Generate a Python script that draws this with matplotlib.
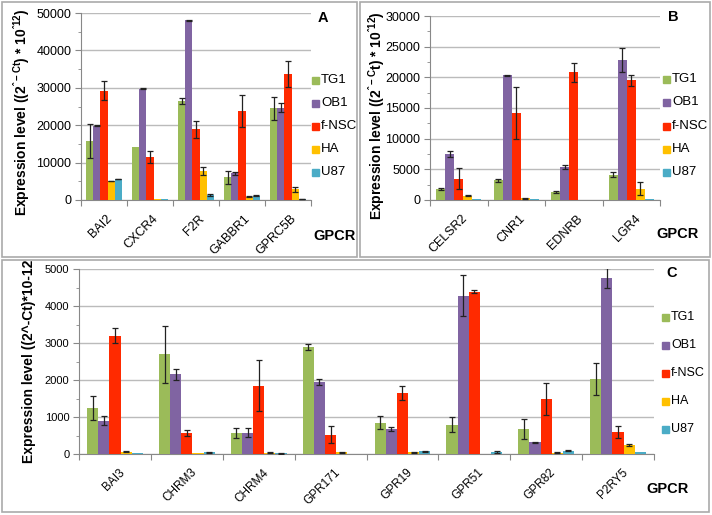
import numpy as np
import matplotlib
matplotlib.use("Agg")
import matplotlib.pyplot as plt
from matplotlib.patches import Rectangle

plt.rcParams['font.family'] = ['Liberation Sans', 'DejaVu Sans']

nan = np.nan
series = ['TG1', 'OB1', 'f-NSC', 'HA', 'U87']
colors = ['#9BBB59', '#8064A2', '#FF2A00', '#FFC000', '#4BACC6']

# Panel A
A_cats = ['BAI2', 'CXCR4', 'F2R', 'GABBR1', 'GPRC5B']
A_TG1 = [15800, 14200, 26600, 6100, 24500]
A_OB1 = [19900, 29700, 48100, 7100, 24700]
A_NSC = [29200, 11500, 18900, 23800, 33600]
A_HA = [5100, 200, 7700, 900, 2900]
A_U87 = [5600, 200, 1300, 1200, 250]
A_TG1_err = [4600, nan, 800, 1700, 3000]
A_OB1_err = [150, 150, 150, 500, 1300]
A_NSC_err = [2500, 1500, 2200, 4200, 3500]
A_HA_err = [100, nan, 1100, 150, 650]
A_U87_err = [100, nan, 200, 150, 100]

# Panel B
B_cats = ['CELSR2', 'CNR1', 'EDNRB', 'LGR4']
B_TG1 = [1800, 3200, 1250, 4100]
B_OB1 = [7500, 20300, 5400, 22800]
B_NSC = [3450, 14200, 20800, 19500]
B_HA = [700, 250, 80, 1850]
B_U87 = [100, 100, 80, 100]
B_TG1_err = [180, 300, 180, 400]
B_OB1_err = [500, 60, 350, 2000]
B_NSC_err = [1700, 4300, 1550, 950]
B_HA_err = [100, 80, nan, 1100]
B_U87_err = [nan, nan, nan, nan]

# Panel C
C_cats = ['BAI3', 'CHRM3', 'CHRM4', 'GPR171', 'GPR19', 'GPR51', 'GPR82', 'P2RY5']
C_TG1 = [1250, 2700, 570, 2900, 845, 790, 675, 2025]
C_OB1 = [900, 2150, 570, 1950, 675, 4280, 315, 4760]
C_NSC = [3200, 570, 1845, 515, 1645, 4390, 1490, 595]
C_HA = [65, 15, 30, 45, 50, 10, 30, 250]
C_U87 = [15, 45, 15, 10, 75, 45, 90, 65]
C_TG1_err = [320, 770, 130, 80, 180, 200, 270, 430]
C_OB1_err = [120, 150, 120, 80, 50, 550, 20, 260]
C_NSC_err = [200, 80, 690, 230, 180, 40, 440, 160]
C_HA_err = [15, nan, 15, 20, 10, nan, 15, 25]
C_U87_err = [nan, 10, 10, nan, 15, 25, 10, nan]

W, H = 712, 515
fig = plt.figure(figsize=(W / 100, H / 100), dpi=100)
fig.patch.set_facecolor('white')


def px_axes(left, top, right, bottom):
    return fig.add_axes([left / W, 1 - bottom / H, (right - left) / W, (bottom - top) / H])


def panel(ax, cats, vals, errs, ymax, ystep, fs_tick, fs_x, capsize):
    x = np.arange(len(cats))
    bw = 0.155
    for i, (v, e) in enumerate(zip(vals, errs)):
        pos = x + (i - 2) * bw
        ax.bar(pos, v, width=bw, color=colors[i], label=series[i], zorder=3)
        ax.errorbar(pos, v, yerr=e, fmt='none', ecolor='#222222', elinewidth=0.9,
                    capsize=capsize, capthick=0.9, zorder=4)
    ax.set_xlim(-0.5, len(cats) - 0.5)
    ax.set_ylim(0, ymax)
    ax.set_yticks(np.arange(0, ymax + 1, ystep))
    ax.set_yticks(np.arange(ystep / 2, ymax, ystep), minor=True)
    ax.grid(axis='y', color='#BBBBBB', linewidth=1.0, zorder=0)
    ax.set_xticks(np.arange(-0.5, len(cats), 1.0))
    ax.set_xticklabels([])
    ax.tick_params(axis='x', length=4, color='#888888', direction='out')
    ax.tick_params(axis='y', which='major', length=4, color='#888888', labelsize=fs_tick, pad=3)
    ax.tick_params(axis='y', which='minor', length=2, color='#888888')
    for s in ['top', 'right']:
        ax.spines[s].set_visible(False)
    for s in ['left', 'bottom']:
        ax.spines[s].set_color('#888888')
    for i, c in enumerate(cats):
        ax.annotate(c, xy=(i + 0.05, 0), xycoords=('data', 'axes fraction'),
                    xytext=(0, -9), textcoords='offset points',
                    rotation=45, ha='right', va='top', rotation_mode='anchor',
                    fontsize=fs_x)


def legend(ax, ys, x_marker, fs):
    for name, col, y in zip(series, colors, ys):
        fig.patches.append(Rectangle((x_marker / W, 1 - (y + 3.5) / H), 7 / W, 7 / H,
                                     transform=fig.transFigure, color=col))
        fig.text((x_marker + 9) / W, 1 - y / H, name, fontsize=fs, va='center', ha='left')


# Panel frames
for (l, t, r, b) in [(2, 2, 357, 257), (360, 2, 710, 257), (2, 260, 709, 512)]:
    fig.patches.append(Rectangle((l / W, 1 - b / H), (r - l) / W, (b - t) / H,
                                 transform=fig.transFigure, fill=False,
                                 edgecolor='#AAAAAA', linewidth=1.2))

cu = '\u02c6'

axA = px_axes(81, 13, 311, 200)
panel(axA, A_cats, [A_TG1, A_OB1, A_NSC, A_HA, A_U87],
      [A_TG1_err, A_OB1_err, A_NSC_err, A_HA_err, A_U87_err], 50000, 10000, 9, 9, 2.5)
axA.set_ylabel('Expression level ((2$^{\\mathregular{' + cu + '-Ct}}$) * 10$^{\\mathregular{' + cu + '12}}$)',
               fontsize=10, fontweight='bold')
axA.yaxis.set_label_coords(-0.215, 0.47)
legend(axA, [80, 103, 126, 149, 172], 312, 9.5)
fig.text(318 / W, 1 - 18 / H, 'A', fontsize=10.5, fontweight='bold', va='center')
fig.text(313 / W, 1 - 236 / H, 'GPCR', fontsize=10.5, fontweight='bold', va='center')

axB = px_axes(430, 16, 660, 200)
panel(axB, B_cats, [B_TG1, B_OB1, B_NSC, B_HA, B_U87],
      [B_TG1_err, B_OB1_err, B_NSC_err, B_HA_err, B_U87_err], 30000, 5000, 9, 9, 2.5)
axB.set_ylabel('Expression level ((2$^{\\mathregular{' + cu + '-C}}$t) * 10$^{\\mathregular{' + cu + '12}}$)',
               fontsize=10, fontweight='bold')
axB.yaxis.set_label_coords(-0.185, 0.46)
legend(axB, [79, 102, 126, 149, 172], 663, 9.5)
fig.text(668 / W, 1 - 17 / H, 'B', fontsize=10.5, fontweight='bold', va='center')
fig.text(656 / W, 1 - 234 / H, 'GPCR', fontsize=10.5, fontweight='bold', va='center')

axC = px_axes(79, 269, 654, 454)
panel(axC, C_cats, [C_TG1, C_OB1, C_NSC, C_HA, C_U87],
      [C_TG1_err, C_OB1_err, C_NSC_err, C_HA_err, C_U87_err], 5000, 1000, 8, 8.5, 2.5)
axC.set_ylabel('Expression level ((2^-Ct)*10-12', fontsize=10, fontweight='bold', labelpad=6)
legend(axC, [317, 345, 373, 401, 429], 662, 9)
fig.text(666 / W, 1 - 273 / H, 'C', fontsize=10.5, fontweight='bold', va='center')
fig.text(646 / W, 1 - 489 / H, 'GPCR', fontsize=10.5, fontweight='bold', va='center')

fig.savefig('out.png', dpi=100, facecolor='white')
